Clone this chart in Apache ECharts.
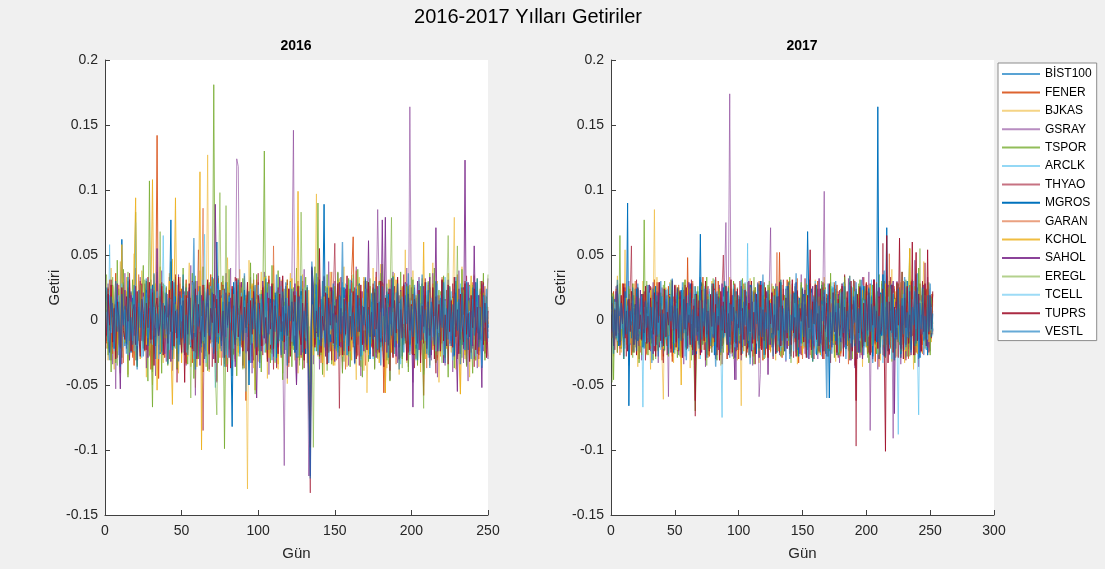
<!DOCTYPE html>
<html><head><meta charset="utf-8">
<script src="https://cdn.jsdelivr.net/npm/echarts@6/dist/echarts.min.js"></script>
<style>html,body{margin:0;padding:0;background:#f0f0f0;}#c{width:1105px;height:569px;}</style>
</head><body><div id="c"></div>
<script>
// Günlük getiriler, binde (per-mille) birim; 1000'e bölünerek çizilir
const NAMES = ['BİST100','FENER','BJKAS','GSRAY','TSPOR','ARCLK','THYAO','MGROS','GARAN','KCHOL','SAHOL','EREGL','TCELL','TUPRS','VESTL'];
const X_TICKS_2016 = [0,50,100,150,200,250];
const X_TICKS_2017 = [0,50,100,150,200,250,300];
const Y_TICKS = [-0.15,-0.1,-0.05,0,0.05,0.1,0.15,0.2];

const BIST100_2016 = [4,-9,12,-3,7,-15,2,18,-6,-11,9,3,-20,14,1,-7,22,-4,6,-13,8,0,-17,11,5,
-2,13,-8,19,-5,10,-14,3,7,-21,16,-1,4,-10,12,-6,24,-3,9,-16,2,11,-8,5,-12,
15,-4,7,-19,1,13,-9,6,-2,17,-11,3,-25,20,-7,8,-1,12,-14,26,-5,10,-3,-18,9,
4,-12,14,-6,2,-22,11,-8,16,0,-4,9,-15,7,3,-10,19,-13,5,-1,8,-17,12,-6,3,
10,-5,14,-9,6,-2,-18,13,4,-11,7,21,-8,1,-15,9,-3,-20,12,5,-7,16,-12,8,-4,
11,-1,-14,6,9,-8,3,-27,-71,12,24,-15,18,-9,7,-4,13,-21,10,2,-6,15,-11,4,-2,
8,-16,12,-3,6,-10,17,-7,1,11,-13,5,-4,9,-19,14,2,-8,20,-6,3,-12,7,-1,13,
-9,4,16,-5,10,-18,2,12,-7,-3,9,-14,21,-2,6,-10,14,-6,-1,8,-16,11,3,17,-12,
-8,5,-15,9,1,13,-4,-11,7,-2,15,-9,3,-13,10,6,-20,12,-5,8,-1,-14,11,4,-7,
16,-10,2,9,-6,13,-18,5,-3,11,-8,1,14,-12,7,-4,19,-9,3,-15,6,10,-2,8,-5];
const FENER_2016 = [-18,25,7,-31,12,-4,36,-15,9,-22,3,28,-11,-6,19,-27,14,2,-35,21,-8,11,30,-13,5,
-24,16,-3,9,-38,27,4,-12,142,-45,18,-7,22,-29,10,-16,33,-1,-20,13,6,-26,17,-9,24,
-14,8,31,-22,-5,17,-33,12,2,-19,26,-8,14,-40,21,-3,9,-27,35,-11,6,18,-24,4,-15,
29,-7,11,-36,20,-2,-17,24,8,-30,15,-10,3,27,-19,6,-62,13,22,-5,-12,31,-21,9,1,
-28,17,-6,23,-14,10,34,-25,4,-9,19,-37,12,-2,26,-16,7,-23,15,-4,30,-18,8,-11,21,
-6,14,-29,3,18,-13,25,-8,-60,16,-21,9,-3,28,-15,6,-34,12,20,-10,2,-24,17,-7,11,
-19,27,-4,13,-32,8,-12,22,1,-17,35,64,-26,10,-5,19,-30,14,3,-21,24,-9,7,-14,16,
-2,-25,11,30,-13,5,-56,-8,18,-20,9,26,-6,-15,21,2,-31,13,-4,17,-10,28,-22,6,-11,
14,-27,8,-3,23,-16,10,-58,19,1,-12,25,-7,4,-20,15,-29,11,6,-18,33,-9,-2,20,-14,
7,-23,16,-5,27,-11,3,-19,12,30,-26,8,-4,18,-13,22,-8,1,-17,24,-6,10,-21,13,-3];
const BJKAS_2016 = [22,-31,8,40,-15,-38,27,3,-19,45,-24,12,-7,33,-42,18,5,-28,51,-11,-35,20,-6,38,-17,
9,-44,29,-12,24,-50,35,-4,16,-27,41,-9,-33,19,2,-22,36,-15,47,-30,11,-3,-41,28,-14,
31,-8,-25,17,44,-36,6,23,-52,14,-18,38,-5,-29,21,-11,127,-40,9,33,-20,15,-47,26,-2,
-16,30,-34,11,48,-23,7,-43,25,-9,18,-28,39,-6,-21,34,-13,-130,46,-10,27,-37,4,20,-32,
13,37,-19,-8,29,-45,16,3,-26,42,-12,22,-38,8,31,-17,-3,24,-49,14,36,-22,10,-31,19,
-41,26,-7,35,-16,11,-33,23,-54,39,-20,6,97,-28,15,-10,30,-44,21,-2,-25,37,-13,8,-35,
18,-9,32,-27,5,41,-18,-36,24,12,-23,29,-4,-46,17,33,-14,9,-39,22,-56,-7,26,-19,40,
-12,27,-30,8,43,-24,-3,19,-37,31,-15,6,-28,36,-8,21,-42,11,25,-19,54,-33,4,16,-26,
38,-11,-29,20,7,-40,32,-18,13,-6,27,-35,9,44,-22,-4,30,-48,17,23,-31,10,-14,36,-9,
-25,19,79,-38,12,-20,-57,41,-7,-30,16,28,-44,5,-13,35,-21,8,-36,24,-3,31,-17,11,-28];
const GSRAY_2016 = [-13,28,-6,19,-34,10,-53,25,2,-41,17,-9,36,-22,7,-30,21,12,-18,40,-27,5,33,-15,-4,
24,-37,11,-20,31,-8,16,-43,27,-2,-25,38,-14,6,-32,20,-11,29,-39,13,3,-28,35,-17,9,
-6,22,-35,14,-19,42,-24,8,-58,30,-10,18,-2,-33,25,-15,11,-38,26,-5,-21,17,-48,34,-12,
19,-29,7,36,-18,-4,40,-31,13,-23,124,118,-16,28,-37,9,-26,15,-8,33,-41,21,2,-14,29,
-33,12,-20,37,-7,25,-42,5,18,-27,10,-36,23,-3,30,-19,-112,26,-45,8,-15,32,146,-24,-50,
14,-31,22,-9,39,-26,6,-120,-63,17,-34,28,-4,21,-38,11,-17,33,-2,-29,45,-13,7,-24,30,
-11,36,-22,3,-40,19,-6,27,-35,13,30,-18,-8,41,-27,9,-43,22,-14,32,-3,-30,16,-20,25,
-37,8,85,20,-16,31,-28,4,-9,24,-46,15,37,-21,2,-33,19,-12,-25,28,-7,40,-36,164,-5,
-48,21,-17,10,33,-26,5,-39,18,-3,29,-14,-31,36,-9,22,-44,12,-20,27,-6,-35,15,31,-18,
7,-40,24,-11,-28,38,-2,16,-33,20,-13,-47,26,4,-22,34,-10,-37,19,-5,28,-24,11,-16,32];
const TSPOR_2016 = [35,-22,14,-40,27,8,-33,46,-15,3,-29,39,-8,20,-44,25,-12,31,-5,83,-36,18,-25,11,42,
-18,30,-47,107,-10,-67,22,-3,37,-26,13,-41,28,-6,19,-35,9,45,-21,-13,33,-38,4,24,-16,
40,-27,10,-34,21,-8,36,-45,16,2,-30,26,-14,41,-22,7,-39,29,-4,-17,181,-28,12,-33,23,
-11,34,-99,15,-24,39,-7,-31,20,13,-43,27,-2,-19,32,-37,6,24,-15,44,-28,9,-6,35,-21,
18,-40,11,130,-25,29,-9,-33,42,-16,5,-27,38,-12,21,-46,14,-3,31,-20,8,-36,25,-14,40,
-29,12,22,-38,7,33,-17,-5,-76,27,-13,41,-24,90,-30,10,-42,19,-8,35,-21,14,-34,3,26,
-15,37,-28,6,-41,23,11,-19,32,-36,2,28,-10,-25,39,-6,17,-44,21,-13,30,-32,9,-4,24,
-38,15,-8,29,-21,43,-16,4,-31,20,-47,12,34,-26,-3,22,-12,37,-30,7,-18,26,-40,13,-5,
31,-23,17,-35,8,-14,28,-42,10,19,-27,36,-9,-20,40,-33,5,23,-16,-2,34,-29,11,-44,25,
-7,18,-37,30,-12,2,-26,39,-19,14,-34,6,27,-10,-41,21,-4,32,-24,9,-15,36,-31,12,1];
const ARCLK_2016 = [12,-20,58,-9,25,-14,3,18,-27,10,-5,22,-16,8,30,-11,-3,19,-24,75,-8,15,-19,5,-12,
21,-6,-17,28,-10,13,-26,4,16,-21,9,-2,65,-15,7,-29,18,-8,11,-4,-22,27,-13,2,17,
-25,9,14,-11,23,-18,5,-30,20,-7,12,-24,3,31,-16,8,-2,-19,26,-9,15,-52,10,-5,22,
-14,6,19,-27,11,-3,24,-17,7,-10,29,-21,4,14,-32,18,-6,9,-23,16,-12,25,-8,2,-18,
20,-4,-15,27,-9,13,-22,6,17,-28,10,-1,23,-13,-7,31,-20,5,14,-26,8,-16,22,-3,11,
-19,25,-10,4,-28,16,-6,-35,-88,33,19,-24,9,-12,26,-5,15,-21,7,-31,12,3,-16,22,-9,
14,-25,8,19,-11,-3,28,-18,6,-23,13,32,-9,-15,21,-6,10,-27,17,-2,-20,24,-12,5,-30,
18,-7,11,-22,27,-14,3,-19,25,-10,-4,16,-26,9,21,-13,5,-29,14,-1,23,-17,8,-24,12,
-6,20,-31,15,-9,26,-18,4,-12,29,-23,7,13,-16,-2,24,-27,10,-8,18,-20,33,-11,6,-15,
22,-13,-4,17,-25,9,28,-19,3,-10,14,-21,26,-7,11,-30,16,-3,-14,23,-9,5,19,-22,8];
const THYAO_2016 = [-16,24,-8,31,-21,5,12,-29,18,-3,-34,27,-11,9,-19,36,-6,-25,15,2,-31,20,-13,28,-7,
10,-23,33,-15,4,-38,21,-9,14,-27,6,29,-18,-2,25,-12,-30,17,8,-21,35,-48,-6,19,-14,
26,-10,-33,22,3,-17,30,-24,11,-5,54,-19,7,-85,16,-28,13,-8,24,-36,4,19,-15,32,-22,
-3,27,-13,8,-40,21,-7,15,-26,33,-12,4,-20,29,-35,10,17,-24,6,-9,23,-31,14,-2,36,
-18,9,-27,20,5,-14,31,-22,12,-38,16,-6,25,-11,-29,19,3,-16,28,-33,11,-4,22,-25,7,
30,-15,-8,24,-37,13,2,-44,-133,40,-20,17,-10,26,-28,6,-13,34,-5,-23,18,9,-31,21,59,
-6,14,-68,33,-9,-27,19,3,-16,24,-2,-21,25,-14,8,-35,22,-11,30,-19,5,-26,15,-4,28,
-13,37,-24,8,-17,29,-32,11,-6,21,-39,16,-1,26,-20,4,-30,18,-9,35,-14,7,-25,12,-3,
20,-37,13,-10,27,-23,6,-18,32,-8,15,-29,2,24,-16,-41,19,9,-26,31,-12,-5,23,-34,14,
-20,28,-7,16,-30,10,-15,25,-3,-24,34,-11,4,-19,22,-36,8,13,-27,18,-2,29,-17,6,-9];
const MGROS_2016 = [8,-14,19,-5,11,-22,3,16,-9,-2,62,-13,6,-18,12,1,-25,17,-7,10,-15,20,-4,-11,14,
-6,23,-17,5,-10,27,-3,-20,13,8,-26,15,-1,-12,21,-8,4,77,-30,-14,18,-5,9,-19,11,
2,-16,25,-9,7,-21,14,-4,-13,19,-28,10,3,-17,22,-6,13,-24,8,-2,16,-11,60,-18,5,
-10,20,-3,12,-27,17,-8,-82,29,-15,6,-20,11,4,-14,23,-7,18,-50,9,-1,15,-22,7,13,
-19,11,-5,26,-12,3,-23,16,8,-9,21,-29,12,-2,17,-16,5,-11,24,-6,-20,14,2,-25,19,
-3,-15,22,-8,10,-26,13,-33,-58,20,4,-12,27,-7,-19,16,-4,89,-24,11,6,-17,23,-10,2,
15,-21,-6,18,-13,25,-2,-27,9,12,-16,4,-23,19,-9,28,-14,1,-18,22,-5,10,-30,14,-1,
-12,24,-7,-17,16,3,-25,11,-4,20,-15,27,-10,6,-21,13,-3,17,-28,8,5,-13,21,-19,9,
-4,16,-22,10,28,-11,-6,19,-26,7,14,-3,-18,23,-9,2,-24,15,-13,30,-7,11,-20,4,18,
-16,6,-27,21,-8,13,-2,-19,25,-12,3,-23,17,-5,9,-15,29,-10,-1,20,-14,7,-25,12,-6];
const GARAN_2016 = [-22,15,31,-9,-26,12,4,-18,27,-7,20,-33,10,-3,25,-14,6,-29,18,2,-21,35,-12,8,-16,
28,-5,-24,14,9,-37,21,-11,30,-19,3,26,-8,-15,17,-31,11,24,-4,-20,13,-28,7,33,-13,
-2,19,-34,9,23,-17,-6,29,-25,12,1,-22,16,86,-30,8,-10,27,-18,4,32,-26,14,-9,21,
-35,6,18,-14,25,-4,-27,11,20,-32,7,-10,29,-21,3,15,-38,22,-6,-17,26,-12,9,31,-24,
13,-8,27,-19,2,-30,16,10,-23,57,-13,5,-28,20,-2,24,-16,-9,31,-36,8,17,-11,22,-5,
-27,19,-14,30,4,-22,12,-41,-95,36,23,-18,9,-6,28,-33,15,-10,21,-3,-25,14,37,-15,7,
-31,20,-9,25,-17,11,-38,16,3,-24,29,-13,-5,38,-28,10,22,-19,6,-35,17,-2,26,-21,12,
-7,33,-26,8,-16,27,-4,-56,18,-11,31,-23,2,15,-34,21,-8,-20,26,-13,9,-29,24,-1,17,
-18,25,-10,-3,30,-27,14,-6,20,-37,11,4,-22,28,-15,7,-31,19,-9,33,-24,12,-2,23,-16,
6,-28,21,-12,35,-20,3,-14,24,-7,-33,16,9,-25,29,-4,-18,13,-30,22,-11,5,26,-19,10];
const KCHOL_2016 = [14,-21,9,-6,26,-15,3,-24,18,-11,58,-4,-17,22,7,-28,12,-9,35,94,-13,20,-30,16,-2,
24,-19,5,-27,15,108,-12,28,-54,10,-25,17,-3,21,-14,-8,30,-22,-65,13,94,-16,6,25,-33,
11,-7,19,-28,4,-15,27,-10,22,-36,8,114,-100,26,-18,2,-24,15,-6,31,-20,9,-13,24,-29,
17,-3,-22,12,29,-16,6,-31,20,-9,14,-25,3,23,-12,-37,18,-5,10,-19,28,-14,-54,16,-8,
-26,21,-11,33,-17,7,-29,13,-2,24,-20,9,-34,19,-6,15,-23,4,27,-13,-8,32,-18,11,-1,
99,-30,16,-9,25,-14,3,-21,-48,12,-27,20,-6,29,-15,8,-33,18,-4,-22,26,-11,14,-35,5,
-13,30,-20,7,-28,17,-2,23,-16,11,-31,19,-7,-24,26,-12,4,-19,33,-8,15,-27,10,2,-21,
22,-10,17,-33,6,-15,28,-56,13,-4,20,-25,9,-12,31,-18,3,-29,16,-7,24,-14,-3,27,-20,
8,-26,19,-11,-2,25,-17,60,-30,10,-6,21,-13,-23,14,29,-9,4,-28,18,-15,11,-22,-5,26,
-12,17,-3,-18,30,-24,-57,15,-8,-27,21,-11,6,34,-19,2,-31,14,-6,20,-16,9,-25,18,-3];
const SAHOL_2016 = [-9,18,-25,6,13,-20,2,28,-14,-53,11,-5,23,-17,8,-31,19,-3,-12,26,-22,10,4,-16,21,
-7,15,-29,9,-18,24,-2,-13,55,-23,5,17,-10,-26,20,-4,12,-32,27,-8,14,-19,3,22,-15,
10,-27,16,-6,25,-12,-21,8,30,-17,2,-35,19,-9,13,-24,28,-4,-15,21,-30,89,12,-11,18,
-20,7,24,-13,3,-29,17,-8,11,-36,22,-1,-16,29,-10,6,-25,19,-4,14,-33,26,-12,-60,9,
13,-24,30,-5,-18,21,-11,4,26,-28,15,-7,-21,33,-3,10,-26,17,-9,24,-14,2,-19,28,-50,
6,18,-27,12,-8,23,-15,-38,-120,41,27,-19,9,-6,31,-22,14,-3,-28,20,-11,25,-17,5,-32,
16,-10,29,-21,3,-14,24,-6,-26,19,-2,11,-33,21,-9,27,-18,4,-24,31,-7,61,-15,8,-22,
13,-29,26,-4,-17,77,-12,79,-25,10,-3,32,-20,7,-28,18,-9,23,-14,-5,29,-31,12,-18,25,
-67,21,-10,30,-23,4,-15,26,-8,-19,13,33,-27,6,-12,71,-24,9,-4,20,-33,16,-7,25,-18,
2,-28,18,-11,-55,24,-6,15,-22,123,-35,29,-13,7,-20,57,-9,-26,19,-4,-52,27,-16,10,-30];
const EREGL_2016 = [19,-27,11,-8,33,-20,5,-35,24,-13,2,29,-18,-4,37,-25,14,-10,22,-31,8,-16,27,-6,-22,
31,-12,17,-28,6,-40,23,-3,15,-19,68,-24,9,-14,26,-33,4,-9,30,-21,12,-37,20,-1,-26,
16,-11,28,-23,7,-60,19,-5,34,-16,-29,22,3,-18,27,-36,10,-7,24,-13,31,-44,-73,18,98,
-9,26,-20,88,-34,14,-3,21,-27,8,-15,32,-11,25,-38,12,-6,29,-22,5,-17,36,-57,-8,17,
-30,23,-12,7,34,-26,15,-4,-19,28,-33,10,21,-16,3,-41,24,-8,13,-28,30,-10,-23,19,-2,
27,-35,83,-6,-18,11,25,-31,-50,6,-98,20,-9,33,-14,-27,17,-3,26,-39,9,22,-12,-20,14,
-24,31,-7,-17,25,-32,12,2,-28,19,-5,35,-21,9,-13,27,-36,15,-2,-25,21,-10,32,-18,6,
24,-15,-29,10,36,-20,3,-11,28,-34,13,79,-26,7,-16,31,-9,22,-37,14,-4,-21,26,-12,33,
-19,5,-30,20,-8,26,-14,-68,17,-2,30,-24,11,-6,34,-27,9,-13,22,-33,18,-9,16,65,-4,
12,-25,18,-3,57,-17,8,-29,23,-11,-36,15,4,-20,27,-8,-31,19,-14,30,-5,21,-26,10,35];
const TCELL_2016 = [6,-17,23,-10,2,-24,15,-5,19,-13,28,-21,8,-2,-27,17,11,-16,24,-7,-20,13,3,-29,18,
-8,21,-14,-3,26,-19,10,-6,22,-30,14,5,-18,27,-11,2,-23,16,-9,31,-15,7,-26,12,-1,
20,-12,-25,17,8,-20,29,-4,13,-28,22,-9,3,-16,66,-33,11,19,-7,-21,14,6,-24,28,-13,
-5,23,-17,11,-29,18,-2,9,-22,30,-14,4,-26,21,-8,15,-55,13,-3,24,-18,7,12,-20,27,
-11,16,-4,-25,21,-10,28,-19,3,14,-32,20,-7,-15,26,-1,11,-23,17,-8,29,-17,5,-12,22,
-28,8,19,-13,25,-6,-21,-40,-80,35,16,-10,27,-24,5,18,-14,-3,22,-30,13,-8,24,-19,9,
3,-23,18,-9,29,-16,7,-27,14,-2,21,-12,-20,26,-5,11,-31,17,-8,24,-15,4,-25,20,-11,
16,-4,-22,27,-14,9,-30,19,2,-18,25,-11,6,-26,21,-7,13,-34,18,-3,28,-16,10,-21,15,
-9,24,-19,5,31,-25,12,-6,-16,22,-29,8,17,-13,3,-24,28,-10,19,-2,-27,15,-7,26,-20,
11,-31,20,-5,14,-18,25,-9,4,-23,30,-14,7,-19,16,-1,-28,22,-12,9,-35,18,-6,13,-17];
const TUPRS_2016 = [-12,20,-4,27,-17,9,-30,14,3,-21,25,-8,-15,18,-1,31,-24,6,12,-19,22,-10,-28,16,5,
-23,13,-6,29,-15,21,-35,8,17,-12,-2,26,-27,11,4,-18,23,-9,30,-20,7,-14,33,-5,-25,
15,-48,19,-11,28,-3,-22,10,24,-30,12,-7,-18,27,-13,5,31,-26,9,-2,20,-33,16,-10,23,
-16,7,-29,21,-4,14,-37,26,-8,-19,32,-13,3,18,-24,10,-6,29,-31,15,-11,22,-2,-27,19,
8,-20,25,-14,2,-32,17,-7,28,-22,11,-3,-26,20,-9,34,-17,5,-12,24,-28,14,-1,19,-23,
26,-10,-19,13,-31,22,-5,-45,-98,38,14,-21,7,-13,55,-25,3,-8,21,-34,17,-4,25,-18,11,
-2,28,-20,9,-27,16,-11,34,-24,3,-15,22,-6,-30,19,-9,27,-19,10,-3,-23,29,-13,6,-28,
21,-7,13,-25,30,-12,-36,17,5,-19,24,-4,-29,15,-10,33,-21,8,-14,27,-1,-31,20,-8,12,
-27,16,6,-18,23,-33,11,-5,29,-22,14,-12,-3,25,-30,18,-7,12,-24,31,-16,4,-20,27,-9,
15,-21,33,-13,8,-26,20,-3,-17,28,-11,5,-32,19,-6,24,-23,10,-15,-4,30,-19,13,-29,7];
const VESTL_2016 = [25,-13,-31,18,6,-22,30,-9,14,-36,20,-4,11,-26,33,-16,2,-19,27,-11,-38,23,-6,16,-28,
9,32,-20,-3,24,-15,36,-30,5,-12,28,-25,13,-7,21,-34,17,-1,-23,29,-10,8,-32,19,-14,
35,-18,4,-27,22,-9,-15,63,-38,12,-5,26,-21,15,-30,7,24,-12,-3,33,-26,10,-17,28,-8,
-24,14,-36,29,-6,19,-13,-43,25,-19,9,31,-28,4,-16,36,-10,-2,22,-33,17,-7,27,-21,13,
-37,20,8,-14,32,-23,-4,26,-31,16,-9,35,-18,3,-27,22,-12,29,-35,11,-1,24,-20,14,-29,
18,-8,34,-25,7,-16,27,-55,-122,45,21,-14,36,-27,10,-20,30,-5,-18,25,-33,12,-7,28,-22,
4,-30,19,-11,60,-24,15,-2,-20,31,-13,6,-34,24,-9,17,-28,11,-4,33,-19,8,-26,21,-15,
30,-6,-23,14,-35,26,3,-17,22,-29,10,-12,33,-21,5,28,-38,16,-9,-25,19,-3,36,-27,11,
-13,27,-4,-31,20,-16,35,-10,8,-26,23,-37,14,2,-19,30,-11,-24,17,-6,29,-33,9,-15,26,
-20,12,-28,33,-8,16,-34,21,-3,-23,29,-15,6,-30,25,-12,-5,32,-21,10,-37,19,-2,24,-14];

const BIST100_2017 = [5,-3,9,-7,2,12,-5,-10,6,1,-8,14,-2,4,-12,7,-4,10,-1,-6,11,3,-9,8,-2,
6,-11,4,13,-5,-1,9,-7,2,15,-8,3,-13,6,10,-4,1,-9,12,-3,7,-6,-14,5,8,
-2,11,-7,4,-10,16,1,-5,8,-12,3,9,-6,-1,13,-8,5,-15,10,2,-4,7,-11,6,0,
12,-6,3,-9,14,-2,-13,8,5,-7,10,-4,1,-11,17,-3,6,-8,-1,11,-14,4,9,-5,2,
-10,7,13,-4,-8,5,-15,12,1,6,-9,3,10,-6,-2,14,-11,8,-3,4,-13,9,2,-7,11,
3,-5,8,-12,15,-1,6,-10,4,-3,12,-8,-6,9,2,-14,10,-2,7,-9,13,-4,1,-11,5,
8,-7,-3,11,-13,6,2,-9,14,-5,10,-1,-12,7,4,-8,16,-6,3,-10,9,-2,-15,12,1,
-4,10,-8,5,12,-11,3,-6,18,-14,7,-2,9,-17,4,11,-9,2,-5,13,-20,6,10,-7,3,
-12,8,15,-3,-9,6,-18,14,-1,22,-10,5,-16,9,3,-13,11,-6,-21,8,12,-4,-15,7,2,
10,-8,-13,17,-2,6,-11,14,-5,-19,9,3,-7,12,-16,5,1,-10,15,-3,8,-12,4,-6,11,-4,7];
const FENER_2017 = [-14,22,-6,17,-25,9,3,-19,28,-11,15,-4,-22,13,6,-27,19,-9,24,-16,2,-30,11,20,-7,
16,-21,8,-13,27,-5,-18,12,31,-24,4,-10,23,-15,7,-28,18,-2,-20,26,-8,14,-32,10,3,
-17,25,-9,-3,19,-26,13,5,-22,48,-12,-6,21,-18,8,-31,16,2,-14,24,-10,33,-23,7,-4,
18,-28,11,-7,26,-15,3,-21,30,-9,14,-34,6,-2,22,-19,10,-25,17,-12,28,-5,-16,9,-30,
13,-6,24,-20,5,-13,29,-27,8,19,-11,-3,25,-22,15,-8,-17,27,-31,12,-1,21,-14,6,-24,
13,-19,10,-26,16,-4,52,-12,-29,20,7,-16,31,-9,-23,14,3,-18,26,-7,11,-33,17,-2,22,
-15,8,-27,19,-5,28,-13,2,-21,15,-10,30,-24,6,-17,25,-3,-11,20,-28,9,-6,24,-19,12,
-8,27,-16,4,-25,18,-12,31,-4,-20,11,-29,22,-7,14,-35,17,-1,26,-14,7,-22,19,-10,29,
-26,13,-5,21,-18,9,-32,16,-3,24,-15,6,-27,30,-11,19,-8,-23,12,-4,27,-20,8,-13,23,
4,-29,18,-7,25,-16,11,-22,3,30,-12,-6,20,-25,9,-15,28,-3,-19,14,-8,22,-27,10,-2,17,-11];
const BJKAS_2017 = [20,-28,11,-8,34,-17,5,-25,15,-3,54,-19,7,-32,24,-12,-5,28,-21,9,-36,17,2,-14,30,
-10,22,-27,13,-4,-38,19,8,85,-16,33,-23,6,-11,-30,-61,14,25,-7,-20,29,-9,16,-33,4,
27,-15,-3,21,-29,10,-8,31,-20,5,17,-37,12,-1,-24,26,-13,8,-30,19,-6,23,-18,11,-26,
14,-5,-22,30,-11,2,-28,18,-9,25,-35,7,-16,27,-3,-20,12,33,-26,9,-13,22,-7,-31,16,
-2,-66,19,-14,26,-8,-23,11,32,-18,5,-28,21,-10,15,-33,3,24,-17,8,-29,13,-4,20,-25,
28,-12,6,-31,17,-5,24,-20,9,-27,14,-1,-19,30,-8,-24,11,21,-15,4,-34,18,-6,25,-13,
-22,10,27,-4,-17,23,-29,13,-9,31,-14,2,-25,18,-6,-21,33,-11,7,-28,16,-3,22,-16,9,
-32,19,-8,12,-26,28,-5,-14,21,-19,6,34,-23,10,-2,-29,17,-12,26,-7,15,-36,8,24,-18,
11,-3,-27,20,-13,30,-21,5,-10,25,-31,16,-4,-18,27,-9,14,-24,3,39,-15,-6,22,-28,12,
-7,29,-19,8,-33,17,-2,-14,26,-22,11,-38,20,4,-16,31,-10,-25,13,45,-5,-20,24,-12,7,-17,21];
const GSRAY_2017 = [-13,19,-4,26,-17,8,-22,14,3,-28,21,-10,-5,30,-19,11,-2,-25,17,-8,24,-14,6,-31,15,
4,-20,27,-9,12,-24,7,29,-16,-3,22,-33,10,-13,25,-7,-18,16,2,-59,20,-11,31,-6,-23,
14,-2,-27,23,-12,9,-34,18,-5,26,-15,3,-21,28,-8,-29,13,6,-19,31,-11,-4,24,-36,10,
-17,22,-6,-25,15,3,-30,20,-13,27,-4,-22,11,33,75,-9,26,174,5,-28,19,-1,-46,21,-14,
8,-31,16,-3,24,-19,10,-26,13,-7,-35,21,2,-17,29,-59,-42,30,-22,-6,-12,18,-9,27,71,
-21,12,-4,28,-15,6,-27,19,-10,24,-2,-32,14,-8,30,-20,3,-13,25,-6,-24,17,-11,35,-18,
9,-26,20,-5,31,-14,2,-22,16,-9,27,-30,11,-3,-19,23,99,-12,-28,14,-6,29,-17,4,-25,
18,-8,22,-33,13,-1,26,-21,7,-14,32,-26,5,-10,19,-37,24,-30,15,-29,10,33,-18,-4,27,
-12,37,-85,6,-30,16,-7,25,-38,11,-3,28,-23,9,-16,34,-9,-27,21,-2,-91,18,-13,30,-6,
23,-34,12,-8,26,-19,4,-29,17,-2,31,-22,46,-13,25,-36,8,-10,20,-27,14,-5,33,-16,-24,11,19];
const TSPOR_2017 = [21,-46,10,-15,27,-8,65,-22,6,-30,17,3,-19,24,-11,-4,28,-25,13,-7,19,-33,9,16,-14,
77,-18,5,-27,22,-9,14,-31,8,19,-12,-24,26,-3,11,-20,30,-15,4,-28,17,-6,23,-10,-21,
13,-29,25,-5,-16,20,-9,31,-23,8,-2,27,-14,17,-35,-70,-26,22,4,-12,29,-19,6,-8,33,
-27,14,-4,21,-18,28,-10,-31,12,24,-16,3,-25,-25,19,-7,26,-13,9,-22,30,-5,-17,15,-2,
18,-24,32,-11,6,-29,15,-3,22,-17,10,-34,25,-8,-14,28,-20,2,19,-30,11,-6,27,-21,8,
-15,26,-2,-23,17,-9,30,-28,5,14,-19,24,-12,-4,33,-25,9,-16,21,-1,-27,13,-10,29,-18,
3,23,-14,-7,31,-21,11,-32,19,-5,25,-15,6,-26,17,-9,28,-3,-19,12,-24,36,-8,15,-29,
20,-11,7,-27,24,-4,-18,34,-14,9,-23,29,-6,-30,16,-10,22,-1,-25,31,-15,5,-20,26,-8,
14,-33,19,-2,27,-17,8,-26,13,35,-21,4,-12,24,-29,10,-7,30,-16,-4,22,-31,17,-11,28,
-19,6,37,-24,12,-8,-28,20,55,-13,26,-5,-33,15,-10,40,-22,3,29,-17,-6,23,-14,9,-27,18,-3];
const ARCLK_2017 = [9,-14,4,20,-8,-3,15,-19,11,-5,-22,13,2,-10,18,-6,7,-16,24,-12,3,-20,10,5,-67,
16,-7,12,-18,-2,25,-11,6,-23,14,1,-9,19,-15,8,-26,17,-4,11,-21,28,-13,5,-1,-17,
21,-10,3,-24,15,-6,9,-28,22,-12,-3,18,-19,7,26,-14,4,-8,13,-30,20,-5,11,-16,2,
-9,24,-17,6,-12,31,-25,10,-4,19,-20,-75,16,-7,27,-11,3,-22,14,-1,-18,25,-13,8,-6,
12,-23,17,-2,29,-15,59,-27,5,-10,22,-8,-19,13,3,-26,18,-12,9,-29,24,-4,-14,20,-7,
15,-21,7,-11,26,-16,2,-24,19,-6,11,-31,14,-3,22,-18,8,-9,28,-25,4,17,-13,-5,23,
-20,10,-4,27,-14,5,-22,16,-8,30,-17,1,-12,24,-28,13,-6,19,-1,-23,15,-10,26,-19,7,
3,-27,14,-9,21,-13,29,-6,-18,11,-24,18,-2,25,-15,8,-31,20,-7,12,-21,27,-11,4,-16,
22,-5,-14,31,-26,9,-1,17,-20,13,-8,26,-33,15,-3,-17,24,-10,6,28,-22,19,-4,-12,-88,
18,-9,25,-17,4,-29,12,-2,-21,16,-7,30,-14,6,-23,-73,19,-11,3,-26,22,-8,14,-18,9,-4,12];
const THYAO_2017 = [-10,17,-23,8,27,-14,3,-19,12,-6,25,-28,14,-2,20,57,-25,9,-15,31,-8,-20,16,4,-13,
22,-31,10,-5,-17,26,-12,7,-24,18,-1,29,-21,13,-9,-33,15,6,-27,23,-4,-14,30,-18,11,
-7,24,-16,2,-29,19,-11,27,-3,-22,14,-8,31,-19,5,-74,20,-13,9,-25,28,-6,16,-31,12,
26,-15,4,-21,13,-9,33,-27,18,-4,-16,25,50,-12,8,-30,21,-2,-19,15,-7,28,-24,10,-14,
30,-23,12,-6,19,-28,7,-15,25,-11,-3,22,-34,16,-8,27,-20,3,-13,29,-26,11,-5,20,-17,
6,-30,24,-12,-4,18,-25,14,-9,31,-19,5,-22,26,-14,-1,28,-29,10,-7,23,-16,2,-27,19,
-11,32,-21,8,-18,25,-6,15,-30,13,-3,24,-24,9,-15,29,-10,-26,17,-5,21,-33,12,-8,27,
-19,6,-29,23,-12,18,-4,35,-22,14,-9,-31,26,-16,5,30,-97,20,-3,-24,16,-11,33,-7,-20,
12,-25,28,-14,6,31,-18,-9,22,-30,15,-4,59,-21,27,-13,8,-26,33,-6,-17,24,-11,19,-29,
10,-5,37,-22,14,-31,25,-8,-18,29,-12,4,-27,35,-15,21,-6,-24,30,-10,44,-19,12,-25,7,-14,20];
const MGROS_2017 = [11,-7,16,-12,4,-20,9,14,-3,-17,22,-9,90,-66,8,-14,19,-5,-11,24,-16,3,-8,17,-21,
6,13,-18,2,-9,21,-14,8,-4,26,-19,11,-2,-15,18,-7,-23,14,5,-12,20,-10,3,-25,16,
-6,19,-13,7,23,-18,-2,12,-21,15,-9,28,-16,4,-11,20,-26,9,-3,66,-19,13,-7,24,-14,
2,-22,17,-8,11,-27,21,-5,-13,18,6,-20,25,-10,-3,14,-24,9,19,-16,4,-29,22,-7,12,
-18,8,-4,23,-15,16,-1,-21,27,-12,5,-9,19,-26,13,-6,30,-17,3,-10,24,-22,8,14,-5,
-14,22,-8,4,-25,18,-11,29,-2,-19,12,-7,26,-16,6,-23,15,-4,21,-13,9,-28,17,-6,10,
20,-12,3,68,16,-9,24,-18,7,-4,-27,-21,11,-15,27,-3,-24,14,-8,19,-60,10,-13,25,-1,
-16,9,-27,18,-5,13,-22,28,-10,4,-19,23,-7,-13,31,-20,6,-1,17,-25,12,-9,26,-15,5,
-11,24,-6,19,-28,14,-3,-17,164,-30,21,-12,35,-19,9,71,-24,12,-8,27,-15,6,-22,18,-10,
15,-26,9,-4,21,-13,30,-18,7,-23,14,-2,-20,26,-9,17,-29,11,-5,23,-15,8,-27,19,-3,12,-8];
const GARAN_2017 = [-12,18,-5,24,-16,9,-27,13,2,-20,28,-8,15,-23,6,-3,21,-14,30,-18,10,-6,-25,17,4,
19,-11,-26,14,7,-22,25,-9,3,-17,29,-14,8,-2,-31,20,-7,13,-19,24,-12,5,-28,18,-4,
11,-24,27,-13,6,-19,22,-3,-15,30,-21,16,-9,30,-26,7,-12,19,-1,-23,26,-16,9,-8,23,
-29,13,-6,21,-17,8,31,-24,4,-11,17,-20,12,-5,26,-30,15,-9,22,-2,-18,27,-13,7,-23,
16,-7,-21,28,-14,10,-25,19,-4,13,-28,23,-10,5,-16,30,-22,8,-3,18,-27,14,-8,25,-12,
3,-19,21,-5,52,-24,12,-15,27,-8,-20,16,-3,29,-26,9,-12,22,-17,4,32,-21,11,-6,-30,
18,-9,24,-18,6,-27,15,-1,-22,28,-13,7,-25,20,-5,12,-30,25,-10,-3,19,-23,13,-16,29,
-7,22,-14,9,-28,17,-4,26,-20,11,-34,14,-6,-21,31,-12,5,-18,24,-9,-27,16,-2,21,-15,
27,-17,6,-25,13,-3,-19,29,-10,-36,20,-8,15,-2,-26,23,-14,51,-22,10,-5,26,-29,12,-6,
17,-24,8,30,-13,-7,22,-30,11,-4,25,-18,-9,28,-21,3,-14,19,-26,14,-2,24,-17,6,-11,20,-5];
const KCHOL_2017 = [8,-15,12,-4,19,-10,3,-21,14,-6,-2,17,-12,5,-18,22,-8,10,-3,-14,16,-1,-20,9,13,
-7,20,-11,2,-16,23,-5,-13,18,-9,6,-19,15,-3,11,-22,24,-8,1,-12,19,-4,-17,14,-6,
10,-23,16,-2,-50,21,-14,7,-9,25,-18,4,13,-11,-6,19,-24,8,-1,15,-13,22,-7,-17,12,
-3,18,-10,26,-20,6,-15,11,-4,-22,17,-8,3,21,-13,-25,14,-5,24,-19,9,-2,-12,20,-16,
7,-11,15,-24,2,19,-7,-16,25,-13,4,-21,17,-6,10,-27,22,-3,-14,18,-9,12,-1,-23,16,
-10,24,-5,-18,13,-2,21,-15,6,-25,19,-8,11,-20,27,-4,-12,16,-7,23,-17,3,-11,20,-26,
14,-6,19,-13,-1,25,-21,9,-16,22,-4,-10,18,-27,12,-3,20,-15,7,-22,26,-9,2,-18,15,
-5,21,-14,8,-24,17,-10,28,-3,-19,13,-7,24,-16,4,-11,19,-26,10,-2,-17,23,-8,14,-21,
6,-13,27,-9,-20,15,-4,22,-25,11,-6,18,-15,3,28,-19,9,-12,24,-7,-23,16,-1,20,-14,
25,-18,7,-11,20,-24,13,-3,55,-16,8,-21,17,-5,-26,22,-9,14,-2,-13,19,-8,27,-17,4,-10,15];
const SAHOL_2017 = [-9,16,-3,22,-14,7,-19,12,-6,25,-11,2,-17,20,-8,13,-24,9,-1,18,-12,-5,23,-16,6,
14,-21,8,-4,27,-15,10,-26,17,-2,-13,21,-9,5,-18,24,-7,-12,19,-3,11,-22,16,-10,26,
-17,6,-24,18,-1,-11,23,-8,13,-20,29,-14,4,-27,16,-6,21,-16,9,-3,-25,15,-9,27,-13,
5,-19,20,-7,-14,24,-2,11,-23,17,-5,28,-18,8,-10,22,-27,13,-4,19,-12,-46,15,-21,9,
-8,26,-15,3,-20,18,-11,30,-4,-24,14,-7,21,-17,6,-29,25,-2,-13,16,-9,22,-42,11,-19,
21,-6,12,-25,8,-16,27,-3,-19,15,-9,24,-22,10,-1,-28,19,-12,6,29,-17,4,-26,13,-8,
-14,23,-5,18,-30,9,-2,26,-20,14,-11,-7,32,-18,7,-24,21,-9,3,-15,27,-4,-21,16,-12,
11,-27,20,-6,-17,28,-13,4,-22,17,-8,24,-31,12,-3,19,-18,8,-25,26,-10,-30,14,-16,22,
-4,18,-26,13,-9,31,-15,6,-21,25,-12,-2,20,-28,10,-7,27,-19,5,-13,30,-72,14,-6,-17,
9,-23,16,-4,29,-19,7,-12,22,-27,13,-1,-16,24,-8,18,-25,4,-11,27,-14,8,-21,19,-5,12,-9];
const EREGL_2017 = [-48,20,-9,14,-25,8,28,-16,5,-22,17,-3,-13,26,-7,11,-29,19,-2,-18,24,-11,6,-27,15,
-4,-22,30,-13,9,-20,15,-6,25,-30,12,-1,-17,21,-10,27,-24,4,-14,18,-8,31,-19,7,-26,
16,-3,22,-28,11,-15,29,-9,-21,14,-4,24,-31,8,-12,19,-6,26,-18,3,-23,28,-11,13,-35,
20,-14,7,-25,32,-8,-17,12,-3,21,-27,10,-19,29,-5,-13,23,-22,15,-1,-30,18,-9,25,-16,
4,-26,21,-11,28,-20,9,-4,-29,17,-12,33,-7,-18,14,-24,22,-3,-15,27,-21,10,-6,30,-13,
-19,12,-2,26,-24,6,-14,31,-10,-27,19,-5,23,-16,8,-33,25,-8,-12,20,-28,15,-3,27,-18,
9,-21,28,-6,-15,22,-29,13,-4,25,-12,-26,18,-9,30,-20,7,-1,-24,16,-11,29,-17,3,-14,
24,-8,-27,19,-13,11,-4,33,-22,14,-9,-30,21,-5,26,-18,10,-15,28,-3,-25,17,-7,22,-12,
-29,16,5,-19,27,-11,-2,23,-26,13,-16,30,-8,-21,18,-6,25,-14,9,-32,20,-10,-1,28,-17,
12,-25,23,-7,-18,31,-13,6,-28,19,-4,-9,26,-20,15,-11,55,-16,-3,24,-22,10,-12,29,-6,17,-8];
const TCELL_2017 = [6,-11,14,-3,-16,9,20,-7,2,-13,17,-5,11,-19,8,-1,15,-12,4,-22,13,-6,-9,18,-2,
10,-17,5,-14,21,-4,-8,16,-20,7,12,-11,3,-23,18,-6,9,-15,24,-1,-12,19,-7,5,-18,
13,-2,-21,16,-9,25,-14,4,-6,19,-24,11,-3,17,-10,-16,22,-5,8,-19,14,-1,26,-13,6,
-8,20,-15,3,-11,23,-19,9,-4,-25,15,-7,18,-13,6,-2,21,-17,12,-9,27,-21,5,-3,16,
-12,7,-20,24,-5,11,-16,2,-10,19,-23,14,-1,-18,22,-8,5,-14,28,-11,-4,17,-26,9,13,
-6,18,-14,4,22,-19,10,-3,-21,15,-8,26,-16,7,-12,20,-2,-24,13,-5,18,-10,1,-20,23,
8,-15,3,-23,17,-7,21,-12,5,-26,14,-1,-9,19,-17,11,-4,24,-13,6,-19,16,-8,29,-11,
-3,13,-25,9,-14,20,-6,16,-22,2,-10,27,-18,8,-4,22,-28,12,-1,-16,25,-9,15,-21,7,
19,-12,-5,28,-20,10,-15,4,-27,17,-8,13,-19,24,-3,-11,18,-22,7,-30,21,-14,9,-6,26,
-17,11,-4,20,-23,6,-13,25,-9,-2,16,-19,23,-7,12,-26,15,-11,4,-21,19,-3,-15,24,-8,10,-12];
const TUPRS_2017 = [13,-20,8,-12,24,-6,-17,19,-3,28,-14,7,-24,16,-9,22,-1,-19,12,-27,25,-7,4,-15,20,
-10,26,-18,3,-23,17,-5,-11,21,-28,14,-2,29,-16,8,-20,24,-13,6,-4,18,-25,11,-8,27,
-21,9,-14,22,-2,-29,16,-7,25,-12,4,-19,28,-23,11,-62,20,-9,15,-27,23,-3,-16,30,-11,
7,-24,19,-5,28,-17,12,-21,3,-31,22,-8,14,-10,26,-19,5,-13,31,-25,10,-2,-18,24,-6,
16,-27,9,-15,23,-4,-22,13,-9,30,-18,6,-26,20,-1,-12,27,-23,8,-16,25,-7,-29,15,-3,
21,-11,4,-26,18,-8,29,-20,11,-4,-24,17,-14,26,-6,-19,31,-10,2,-28,22,-15,9,-1,24,
-17,12,-29,19,-6,54,-23,14,-3,27,-15,5,-20,24,-11,-30,18,-7,13,-22,28,-2,-16,21,-9,
6,-25,16,-12,-3,26,-28,10,-19,22,-7,-14,30,-24,15,-1,-62,19,-10,25,-6,-21,13,-17,28,
-8,21,-27,12,-4,31,-16,7,-22,18,-11,-5,24,-19,-101,65,-33,14,-8,27,-25,10,-13,29,-4,
63,-22,11,-30,17,-6,26,-18,4,-13,60,-27,9,52,-16,20,-4,-24,13,-9,28,-20,54,-11,19,-7,22];
const VESTL_2017 = [18,-26,9,-14,31,-8,-20,13,3,-30,22,-11,16,-35,7,-4,25,-19,12,-24,28,-9,-15,20,-2,
-22,15,-6,27,-17,10,-33,24,-3,-12,19,-28,8,30,-21,5,-14,23,-9,-26,17,-1,32,-18,11,
-7,25,-23,4,-16,29,-10,18,-31,13,-2,21,-19,8,-27,26,-12,3,-22,33,-15,9,-5,24,-29,
16,-8,-20,28,-13,6,-36,22,-4,17,-25,11,-14,30,-6,-19,25,-29,12,-1,24,-17,7,-23,19,
-11,31,-26,14,-4,22,-18,8,-34,27,-9,-15,20,-3,28,-22,10,-13,35,-27,6,-7,23,-19,13,
2,-28,19,-12,26,-5,-21,31,-16,9,-24,17,-10,29,-30,4,-8,21,-14,36,-23,12,-3,-18,25,
-13,20,-7,-29,24,-15,8,-32,18,-4,27,-20,11,-25,15,-1,23,-11,-60,28,-17,6,-26,21,-9,
30,-19,13,-5,-24,22,-10,26,-30,7,-16,34,-12,-21,18,-2,29,-25,9,-14,31,-8,-27,16,-4,
-20,25,-9,18,-33,11,-6,28,-17,3,-26,21,-12,38,-28,14,-5,-19,27,-10,20,-31,8,-15,24,
-3,-29,17,-11,33,-21,6,-14,27,-25,10,-4,22,-18,36,-30,13,-7,25,-16,3,-23,19,-9,28,-13,5];

const DATA_2016 = [BIST100_2016,FENER_2016,BJKAS_2016,GSRAY_2016,TSPOR_2016,ARCLK_2016,THYAO_2016,MGROS_2016,GARAN_2016,KCHOL_2016,SAHOL_2016,EREGL_2016,TCELL_2016,TUPRS_2016,VESTL_2016];
const DATA_2017 = [BIST100_2017,FENER_2017,BJKAS_2017,GSRAY_2017,TSPOR_2017,ARCLK_2017,THYAO_2017,MGROS_2017,GARAN_2017,KCHOL_2017,SAHOL_2017,EREGL_2017,TCELL_2017,TUPRS_2017,VESTL_2017];

const COLORS = ['#0072BD','#D95319','#EDB120','#7E2F8E','#77AC30','#4DBEEE','#A2142F',
                '#0072BD','#D95319','#EDB120','#7E2F8E','#77AC30','#4DBEEE','#A2142F','#0072BD'];
const OPAC = [0.65,0.9,0.55,0.55,0.8,0.6,0.6,1,0.55,0.85,0.9,0.55,0.55,0.9,0.6];
const WIDTHS = [1,1,1,1,1,1,1,1,1,1,1,1,1,1,1.4];

const FONT = "'Liberation Sans', Arial, Helvetica, sans-serif";
const txt = '#262626';
const axisCol = '#404040';

function mkSeries(arrs, idx) {
  return arrs.map((a, k) => ({
    name: NAMES[k], type: 'line', xAxisIndex: idx, yAxisIndex: idx,
    data: a.map((v, i) => [i + 1, v / 1000]),
    symbol: 'none', showSymbol: false, silent: true, animation: false,
    color: COLORS[k],
    itemStyle: { color: COLORS[k], opacity: OPAC[k] },
    lineStyle: { color: COLORS[k], width: WIDTHS[k], opacity: OPAC[k] }
  }));
}

function xAxis(idx, max) {
  return {
    type: 'value', gridIndex: idx, min: 0, max: max, interval: 50,
    name: 'Gün', nameLocation: 'middle', nameGap: 31,
    nameTextStyle: { fontFamily: FONT, fontSize: 15, color: txt },
    axisLine: { show: true, onZero: false, lineStyle: { color: axisCol, width: 1 } },
    axisTick: { show: true, inside: true, length: 5, lineStyle: { color: axisCol } },
    axisLabel: { fontFamily: FONT, fontSize: 14, color: txt, margin: 9 },
    splitLine: { show: false }
  };
}
function yAxis(idx) {
  return {
    type: 'value', gridIndex: idx, min: -0.15, max: 0.2, interval: 0.05,
    name: 'Getiri', nameLocation: 'middle', nameGap: 36, nameRotate: 90,
    nameTextStyle: { fontFamily: FONT, fontSize: 15, color: txt },
    axisLine: { show: true, onZero: false, lineStyle: { color: axisCol, width: 1 } },
    axisTick: { show: true, inside: true, length: 5, lineStyle: { color: axisCol } },
    axisLabel: { fontFamily: FONT, fontSize: 14, color: txt, margin: 7,
      formatter: v => String(+v.toFixed(2)) },
    splitLine: { show: false }
  };
}

const chart = echarts.init(document.getElementById('c'), null, { renderer: 'canvas' });
chart.setOption({
  backgroundColor: '#f0f0f0',
  animation: false,
  title: [
    { text: '2016-2017 Yılları Getiriler', left: 528, top: 7, textAlign: 'center', padding: 0,
      textStyle: { fontFamily: FONT, fontSize: 20, fontWeight: 'normal', color: '#000' } },
    { text: '2016', left: 296, top: 39, textAlign: 'center', padding: 0,
      textStyle: { fontFamily: FONT, fontSize: 14, fontWeight: 'bold', color: '#000' } },
    { text: '2017', left: 802, top: 39, textAlign: 'center', padding: 0,
      textStyle: { fontFamily: FONT, fontSize: 14, fontWeight: 'bold', color: '#000' } }
  ],
  grid: [
    { left: 105, top: 60, width: 383, height: 455, show: true, backgroundColor: '#ffffff', borderWidth: 0 },
    { left: 611, top: 60, width: 383, height: 455, show: true, backgroundColor: '#ffffff', borderWidth: 0 }
  ],
  xAxis: [xAxis(0, X_TICKS_2016[X_TICKS_2016.length - 1]), xAxis(1, X_TICKS_2017[X_TICKS_2017.length - 1])],
  yAxis: [yAxis(0), yAxis(1)],
  legend: {
    data: NAMES, orient: 'vertical', left: 998, top: 63,
    backgroundColor: '#ffffff', borderColor: '#8c8c8c', borderWidth: 1,
    padding: [5, 5, 3, 4], itemWidth: 38, itemHeight: 12, itemGap: 6.4,
    icon: 'path://M0,0L38,0L38,2L0,2Z', symbolKeepAspect: true,
    textStyle: { fontFamily: FONT, fontSize: 12, color: '#000' },
    selectedMode: false
  },
  series: mkSeries(DATA_2016, 0).concat(mkSeries(DATA_2017, 1))
});
</script>
</body></html>
